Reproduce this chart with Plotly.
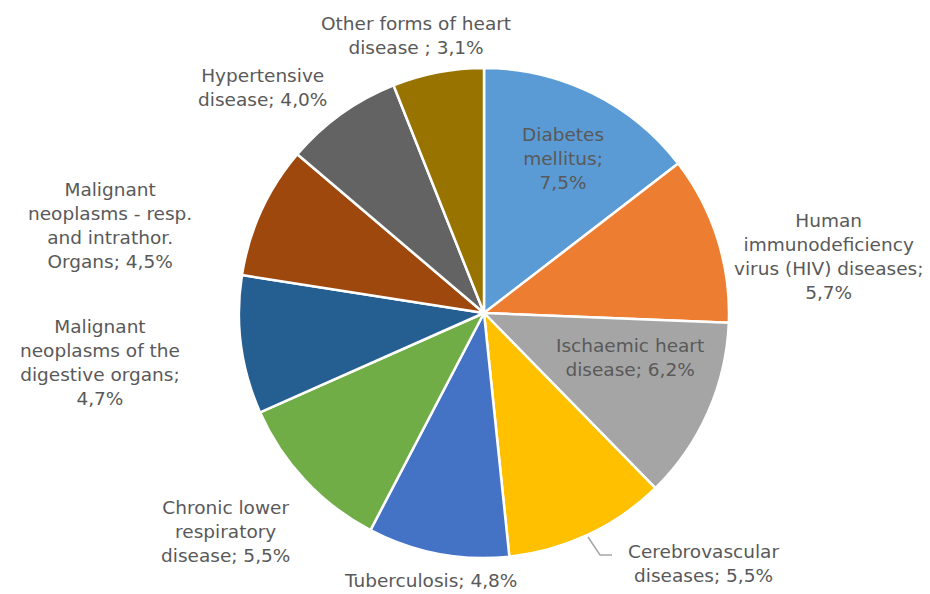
import plotly.graph_objects as go

categories = [
    "Diabetes mellitus",
    "Human immunodeficiency virus (HIV) diseases",
    "Ischaemic heart disease",
    "Cerebrovascular diseases",
    "Tuberculosis",
    "Chronic lower respiratory disease",
    "Malignant neoplasms of the digestive organs",
    "Malignant neoplasms - resp. and intrathor. Organs",
    "Hypertensive disease",
    "Other forms of heart disease",
]
values = [7.5, 5.7, 6.2, 5.5, 4.8, 5.5, 4.7, 4.5, 4.0, 3.1]
label_texts = [
    "Diabetes<br>mellitus;<br>7,5%",
    "Human<br>immunodeficiency<br>virus (HIV) diseases;<br>5,7%",
    "Ischaemic heart<br>disease; 6,2%",
    "Cerebrovascular<br>diseases; 5,5%",
    "Tuberculosis; 4,8%",
    "Chronic lower<br>respiratory<br>disease; 5,5%",
    "Malignant<br>neoplasms of the<br>digestive organs;<br>4,7%",
    "Malignant<br>neoplasms - resp.<br>and intrathor.<br>Organs; 4,5%",
    "Hypertensive<br>disease; 4,0%",
    "Other forms of heart<br>disease ; 3,1%",
]
colors = ["#5B9BD5", "#ED7D31", "#A5A5A5", "#FFC000", "#4472C4",
          "#70AD47", "#255E91", "#9E480E", "#636363", "#997300"]

# page body has an 8px margin, so the figure is drawn 8px in from the corner
OFF = 8
W, H = 930 - OFF, 594 - OFF
cx, cy, r = 484 - OFF, 313 - OFF, 245


def px(x):
    return (x - OFF) / W


def py(y):
    return 1 - (y - OFF) / H


fig = go.Figure(go.Pie(
    labels=categories,
    values=values,
    sort=False,
    direction="clockwise",
    rotation=0,
    textinfo="none",
    hoverinfo="label+value",
    marker=dict(colors=colors, line=dict(color="white", width=2.5)),
    domain=dict(x=[(cx - r) / W, (cx + r) / W], y=[1 - (cy + r) / H, 1 - (cy - r) / H]),
    showlegend=False,
))

# label block centres in reference pixels
label_pos = [
    (563, 159), (828, 256), (630, 357), (703, 563), (430, 580),
    (225, 531), (100, 362), (110, 225), (262, 87), (416, 35),
]
font = dict(family="DejaVu Sans", size=18.5, color="#595959")
annotations = []
for txt, (x, y) in zip(label_texts, label_pos):
    annotations.append(dict(
        text=txt, x=px(x), y=py(y), xref="paper", yref="paper",
        showarrow=False, align="center", xanchor="center", yanchor="middle",
        font=font,
    ))

fig.add_shape(type="path", xref="paper", yref="paper",
              path=f"M {px(588)} {py(537)} L {px(600)} {py(555)} L {px(612)} {py(555)}",
              line=dict(color="#A6A6A6", width=1.5))

fig.update_layout(
    width=W, height=H,
    margin=dict(l=0, r=0, t=0, b=0),
    paper_bgcolor="white",
    plot_bgcolor="white",
    annotations=annotations,
)

fig.write_html("out.html")
